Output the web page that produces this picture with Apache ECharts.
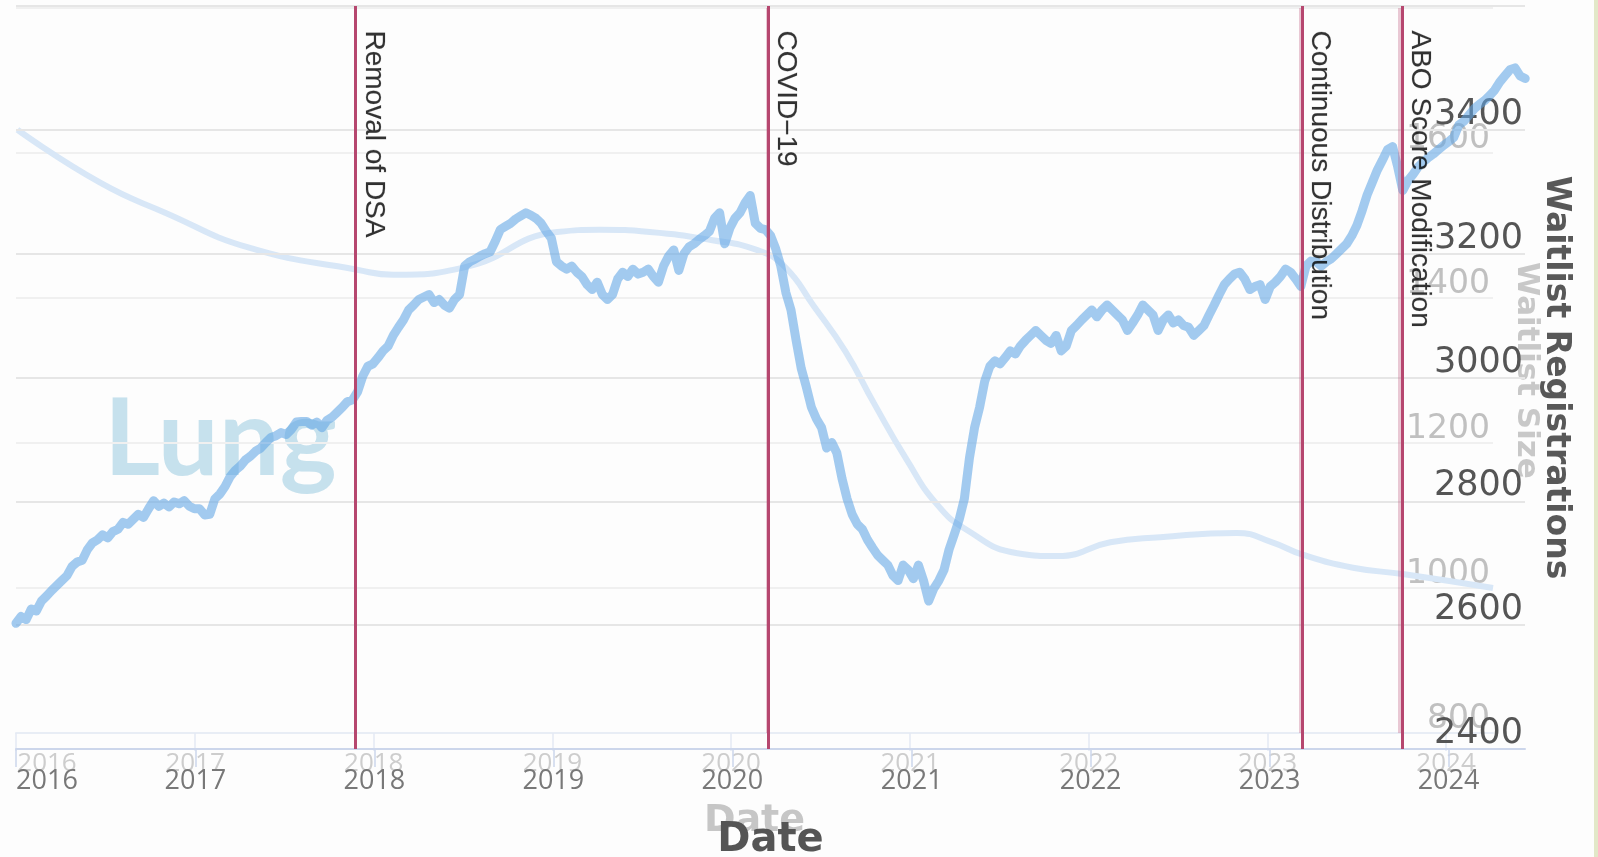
<!DOCTYPE html>
<html>
<head>
<meta charset="utf-8">
<title>Lung waitlist registrations</title>
<script src="https://cdn.jsdelivr.net/npm/echarts@6/dist/echarts.min.js"></script>
<style>
  html, body { margin: 0; padding: 0; background: #fdfdfd; }
  #chart { width: 1598px; height: 857px; }
</style>
</head>
<body>
<div id="chart"></div>
<script>
// Waitlist registrations, one reading roughly every 10.4 days from Jan 2016
const firstReadingDay = '2016-01-01';
const daysBetweenReadings = 10.4;
const registrations = [
  2603, 2614, 2609, 2626, 2623, 2639, 2647, 2656, 2664, 2672, 2680, 2695, 2702, 2705, 2722, 2733, 2738, 2746, 2741, 2751,
  2755, 2766, 2763, 2771, 2779, 2774, 2788, 2801, 2792, 2797, 2791, 2799, 2796, 2801, 2792, 2788, 2788, 2778, 2779, 2804,
  2812, 2824, 2840, 2850, 2857, 2867, 2873, 2881, 2886, 2895, 2903, 2906, 2911, 2908, 2916, 2928, 2929, 2929, 2923, 2928,
  2919, 2931, 2936, 2944, 2952, 2961, 2964, 2977, 3002, 3018, 3022, 3032, 3043, 3051, 3068, 3081, 3093, 3109, 3117, 3126,
  3130, 3134, 3121, 3126, 3117, 3112, 3126, 3134, 3180, 3187, 3191, 3196, 3200, 3203, 3220, 3239, 3244, 3249, 3256, 3261,
  3266, 3262, 3257, 3249, 3236, 3225, 3187, 3180, 3175, 3180, 3170, 3163, 3150, 3142, 3154, 3134, 3126, 3134, 3159, 3170,
  3163, 3175, 3167, 3170, 3175, 3163, 3154, 3180, 3196, 3206, 3173, 3200, 3211, 3216, 3223, 3229, 3236, 3257, 3266, 3216,
  3241, 3257, 3266, 3282, 3294, 3249, 3241, 3239, 3229, 3208, 3180, 3137, 3109, 3060, 3015, 2985, 2952, 2933, 2919, 2886,
  2895, 2878, 2837, 2804, 2779, 2763, 2755, 2738, 2725, 2713, 2705, 2697, 2680, 2672, 2697, 2689, 2675, 2697, 2672, 2639,
  2659, 2672, 2689, 2722, 2746, 2771, 2804, 2870, 2919, 2952, 2994, 3018, 3027, 3022, 3032, 3043, 3038, 3051, 3060, 3068,
  3076, 3068, 3060, 3055, 3068, 3043, 3051, 3076, 3084, 3093, 3101, 3109, 3098, 3109, 3117, 3109, 3101, 3093, 3076, 3088,
  3101, 3117, 3109, 3101, 3076, 3093, 3101, 3088, 3093, 3084, 3081, 3068, 3076, 3084, 3101, 3117, 3134, 3150, 3159, 3167,
  3170, 3159, 3142, 3147, 3150, 3126, 3147, 3154, 3163, 3175, 3170, 3159, 3147, 3180, 3188, 3187, 3180, 3187, 3192, 3200,
  3208, 3216, 3229, 3246, 3269, 3295, 3315, 3335, 3351, 3368, 3373, 3340, 3302, 3318, 3328, 3340, 3348, 3355, 3361, 3368,
  3375, 3381, 3388, 3408, 3414, 3424, 3434, 3441, 3447, 3455, 3464, 3477, 3487, 3497, 3500, 3487, 3483
];

// Overall waitlist size (faint companion view)
const sizeDates = [
  '2016-01-04', '2016-06-21', '2016-11-03', '2017-04-23', '2017-11-28', '2018-02-10', '2018-07-09',
  '2019-01-11', '2019-04-08', '2019-07-19', '2019-11-21', '2020-02-24', '2020-04-20', '2020-06-18',
  '2020-08-22', '2020-10-19', '2020-12-24', '2021-02-24', '2021-04-27', '2021-08-08', '2021-10-30',
  '2022-02-14', '2022-05-27', '2022-10-30', '2023-01-11', '2023-03-14', '2023-06-25', '2023-10-08',
  '2024-04-06'
];
const waitlistSize = [
  1632, 1559, 1517, 1469, 1439, 1432, 1443,
  1491, 1494, 1491, 1480, 1466, 1443, 1389,
  1326, 1255, 1178, 1116, 1080, 1048, 1044,
  1063, 1070, 1076, 1063, 1046, 1028, 1019,
  1000
];

// Policy events
const eventNames = ['Removal of DSA', 'COVID\u221219', 'Continuous Distribution', 'ABO Score Modification'];
const eventDates = ['2017-11-24', '2020-03-15', '2023-03-09', '2023-09-28'];

// Axis ticks
const registrationTicks = [2400, 2600, 2800, 3000, 3200, 3400];
const registrationTop = 3600;
const sizeTicks = [800, 1000, 1200, 1400, 1600];
const sizeTop = 1800;
const firstYear = 2016;

const DAY = 24 * 3600 * 1000;
const startTime = new Date(firstReadingDay + 'T00:00:00').getTime();
const registrationSeries = registrations.map((v, i) =>
  [startTime + Math.round(i * daysBetweenReadings * DAY), v]);
const sizeSeries = sizeDates.map((d, i) => [d, waitlistSize[i]]);

const chart = echarts.init(document.getElementById('chart'), null, { renderer: 'canvas' });

// The first year label sits to the right of its tick so it stays inside the frame
const yearLabel = v => {
  const y = new Date(v).getFullYear();
  return y === firstYear ? '{first|' + y + '}' : String(y);
};
const firstRich = { first: { padding: [0, 0, 0, 62] } };

const option = {
  backgroundColor: '#fdfdfd',
  animation: false,
  graphic: [
    {
      type: 'text', z: 0,
      style: {
        x: 104, y: 440, text: 'Lung',
        font: 'bold 108px Lato, "Open Sans", sans-serif',
        fill: '#c6e1ed', textVerticalAlign: 'middle'
      }
    },
    {
      type: 'rect', z: 0,
      shape: { x: 1594, y: 0, width: 4, height: 857 },
      style: { fill: '#e2e8c8' }
    }
  ],
  grid: [
    { left: 16, right: 73, top: 6, bottom: 108, containLabel: false, outerBoundsMode: 'none' },
    { left: 16, right: 105, top: 8, bottom: 124, containLabel: false, outerBoundsMode: 'none' }
  ],
  xAxis: [
    {
      type: 'time', gridIndex: 0,
      min: '2016-01-01', max: '2024-06-05',
      minInterval: 360 * DAY, maxInterval: 370 * DAY,
      splitLine: { show: false },
      axisLine: { lineStyle: { color: '#ccd6eb', width: 2 } },
      axisTick: { show: true, length: 18, lineStyle: { color: '#ccd6eb', width: 1.5 } },
      axisLabel: {
        formatter: yearLabel, rich: firstRich, fontFamily: '"Open Sans", sans-serif', fontSize: 27,
        color: '#787878', margin: 19
      },
      name: 'Date', nameLocation: 'middle', nameGap: 72,
      nameTextStyle: { fontFamily: '"DejaVu Sans", sans-serif', fontWeight: 'bold', fontSize: 40, color: '#555' },
      z: 3
    },
    {
      type: 'time', gridIndex: 1,
      min: '2016-01-01', max: '2024-04-06',
      minInterval: 360 * DAY, maxInterval: 370 * DAY,
      splitLine: { show: false },
      axisLine: { lineStyle: { color: '#e8edf5', width: 2 } },
      axisTick: { show: true, length: 18, lineStyle: { color: '#e3e9f3', width: 1.5 } },
      axisLabel: {
        formatter: yearLabel, rich: firstRich, fontFamily: '"Open Sans", sans-serif', fontSize: 26,
        color: '#cdcdcd', margin: 18
      },
      name: 'Date', nameLocation: 'middle', nameGap: 69,
      nameTextStyle: { fontFamily: '"DejaVu Sans", sans-serif', fontWeight: 'bold', fontSize: 38, color: '#c6c6c6' },
      z: 1
    }
  ],
  yAxis: [
    {
      type: 'value', gridIndex: 0, position: 'right',
      min: registrationTicks[0], max: registrationTop, interval: 200,
      axisLine: { show: false }, axisTick: { show: false },
      splitLine: { lineStyle: { color: '#e6e6e6', width: 2 } },
      axisLabel: {
        inside: true, align: 'right', verticalAlign: 'bottom', margin: 2, lineHeight: 30,
        fontFamily: '"DejaVu Sans", sans-serif', fontSize: 35, color: '#555',
        formatter: v => registrationTicks.includes(v) ? String(v) : ''
      },
      name: 'Waitlist Registrations', nameLocation: 'middle', nameRotate: -90, nameGap: 14,
      nameTextStyle: { fontFamily: '"DejaVu Sans", sans-serif', fontWeight: 'bold', fontSize: 33, color: '#585858' },
      z: 3
    },
    {
      type: 'value', gridIndex: 1, position: 'right',
      min: sizeTicks[0], max: sizeTop, interval: 200,
      axisLine: { show: false }, axisTick: { show: false },
      splitLine: { lineStyle: { color: '#f0f0f0', width: 2 } },
      axisLabel: {
        inside: true, align: 'right', verticalAlign: 'bottom', margin: 3, lineHeight: 28,
        fontFamily: '"DejaVu Sans", sans-serif', fontSize: 33, color: '#c0c0c0',
        formatter: v => sizeTicks.includes(v) ? String(v) : ''
      },
      name: 'Waitlist Size', nameLocation: 'middle', nameRotate: -90, nameGap: 18,
      nameTextStyle: { fontFamily: '"DejaVu Sans", sans-serif', fontWeight: 'bold', fontSize: 31, color: '#c8c8c8' },
      z: 1
    }
  ],
  series: [
    {
      name: 'Waitlist Size', type: 'line', xAxisIndex: 1, yAxisIndex: 1, z: 1,
      data: sizeSeries, smooth: true, showSymbol: false,
      lineStyle: { color: '#d8e7f7', width: 6 },
      markLine: {
        silent: true, symbol: ['none', 'none'], label: { show: false },
        lineStyle: { color: 'rgba(190,80,120,0.3)', width: 3, type: 'solid' },
        data: eventDates.map(d => ({ xAxis: d }))
      }
    },
    {
      name: 'events', type: 'scatter', xAxisIndex: 0, yAxisIndex: 0, z: 2,
      symbolSize: 1, itemStyle: { color: 'rgba(0,0,0,0)' },
      data: eventDates.map(d => [d, registrationTop]),
      markLine: {
        silent: true, symbol: ['none', 'none'], label: { show: false },
        lineStyle: { color: '#b6476f', width: 3, type: 'solid', opacity: 1 },
        data: eventDates.map(d => ({ xAxis: d }))
      }
    },
    {
      name: 'Waitlist Registrations', type: 'line', xAxisIndex: 0, yAxisIndex: 0, z: 3,
      data: registrationSeries, showSymbol: false,
      lineStyle: { color: 'rgba(96,166,230,0.58)', width: 9, join: 'round', cap: 'round' }
    },
    {
      name: 'event labels', type: 'scatter', xAxisIndex: 0, yAxisIndex: 0, z: 4,
      symbolSize: 1, itemStyle: { color: 'rgba(0,0,0,0)' },
      data: eventDates.map((d, i) => ({ value: [d, registrationTop], name: eventNames[i] })),
      label: {
        show: true, formatter: '{b}', rotate: -90, position: [4, 25],
        align: 'left', verticalAlign: 'bottom',
        fontFamily: '"Liberation Sans", Arial, sans-serif', fontSize: 28, color: '#000',
        textBorderColor: 'rgba(0,0,0,0.25)', textBorderWidth: 0.6
      },
      labelLayout: { hideOverlap: false }
    }
  ]
};

chart.setOption(option);
</script>
</body>
</html>
